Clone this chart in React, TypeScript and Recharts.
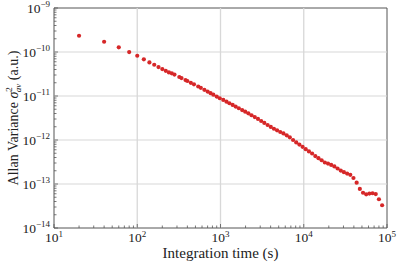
import React from "react";
import {
  ScatterChart,
  Scatter,
  XAxis,
  YAxis,
  ReferenceLine,
  ReferenceArea,
} from "recharts";

// integration times (s)
const TAU = [
  20, 40, 60, 80, 100, 120, 140, 160, 180, 200, 220, 240, 260, 280, 320, 340,
  380, 400, 440, 480, 540, 580, 640, 700, 760, 820, 900, 980, 1080, 1180, 1280,
  1400, 1520, 1660, 1820, 1980, 2160, 2360, 2580, 2820, 3080, 3360, 3680, 4020,
  4380, 4780, 5220, 5700, 6240, 6800, 7440, 8120, 8860, 9680, 10560, 11540,
  12600, 13760, 15020, 16400, 17920, 19560, 21360, 23320, 25480, 27820, 30380,
  33180, 36220, 39560, 43200, 47180, 51520, 56260, 61440, 67080, 73260, 80000,
  87360,
];

// allan variance (a.u.)
const AVAR = [
  2.34e-10, 1.71e-10, 1.28e-10, 9.97e-11, 8.21e-11, 6.8e-11, 5.81e-11,
  5.13e-11, 4.54e-11, 4.09e-11, 3.74e-11, 3.44e-11, 3.28e-11, 3.07e-11,
  2.7e-11, 2.55e-11, 2.3e-11, 2.19e-11, 1.995e-11, 1.845e-11, 1.643e-11,
  1.535e-11, 1.382e-11, 1.258e-11, 1.157e-11, 1.069e-11, 9.68e-12, 8.9e-12,
  8.14e-12, 7.45e-12, 6.85e-12, 6.27e-12, 5.76e-12, 5.27e-12, 4.8e-12,
  4.41e-12, 4.03e-12, 3.65e-12, 3.32e-12, 3.01e-12, 2.7e-12, 2.44e-12,
  2.19e-12, 1.98e-12, 1.8e-12, 1.66e-12, 1.52e-12, 1.41e-12, 1.28e-12,
  1.153e-12, 1.0e-12, 8.83e-13, 7.87e-13, 7.01e-13, 6.18e-13, 5.51e-13,
  4.93e-13, 4.31e-13, 3.86e-13, 3.47e-13, 3.08e-13, 2.91e-13, 2.72e-13,
  2.51e-13, 2.25e-13, 2.02e-13, 1.86e-13, 1.73e-13, 1.62e-13, 1.37e-13,
  1.07e-13, 7.72e-14, 6.33e-14, 5.82e-14, 6.07e-14, 6.16e-14, 5.91e-14,
  4.5e-14, 3.29e-14,
];

const X_MAJOR = [10, 100, 1000, 10000, 100000];
const Y_MAJOR = [1e-14, 1e-13, 1e-12, 1e-11, 1e-10, 1e-9];
const MINOR_STEPS = [2, 3, 4, 5, 6, 7, 8, 9];

const X_TICKS = [
  ...X_MAJOR,
  ...X_MAJOR.slice(0, -1).flatMap((d) => MINOR_STEPS.map((m) => m * d)),
].sort((a, b) => a - b);
const Y_TICKS = [
  ...Y_MAJOR,
  ...Y_MAJOR.slice(0, -1).flatMap((d) => MINOR_STEPS.map((m) => m * d)),
].sort((a, b) => a - b);

const FONT = "'Liberation Serif', 'DejaVu Serif', serif";
const SPINE = "#555";
const GRID = "#d8d8d8";
const RED = "#d62728";

const isMajor = (v: number) => {
  const l = Math.log10(v);
  return Math.abs(l - Math.round(l)) < 1e-6;
};

const fmtExp = (v: number) => {
  const e = Math.round(Math.log10(v));
  return e < 0 ? "\u2212" + Math.abs(e) : String(e);
};

const XTick = (props: any) => {
  const { x, y, payload } = props;
  const v = payload.value;
  if (!isMajor(v)) {
    return <line x1={x} x2={x} y1={y} y2={y - 2.5} stroke={SPINE} strokeWidth={0.8} />;
  }
  return (
    <g>
      <line x1={x} x2={x} y1={y} y2={y - 4} stroke={SPINE} strokeWidth={0.8} />
      <text x={x} y={y + 14} textAnchor="middle" fontFamily={FONT} fontSize={13.5} fill="#222">
        10
        <tspan dy={-5.5} fontSize={9}>
          {fmtExp(v)}
        </tspan>
      </text>
    </g>
  );
};

const YTick = (props: any) => {
  const { x, y, payload } = props;
  const v = payload.value;
  if (!isMajor(v)) {
    return <line x1={x} x2={x + 2.5} y1={y} y2={y} stroke={SPINE} strokeWidth={0.8} />;
  }
  return (
    <g>
      <line x1={x} x2={x + 4} y1={y} y2={y} stroke={SPINE} strokeWidth={0.8} />
      <text x={x - 4} y={y + 4.5} textAnchor="end" fontFamily={FONT} fontSize={13.5} fill="#222">
        10
        <tspan dy={-5.5} fontSize={9}>
          {fmtExp(v)}
        </tspan>
      </text>
    </g>
  );
};

const XLabel = (props: any) => {
  const { viewBox } = props;
  return (
    <text
      x={viewBox.x + viewBox.width / 2}
      y={viewBox.y + 29.5}
      textAnchor="middle"
      fontFamily={FONT}
      fontSize={15}
      fill="#222"
    >
      Integration time (s)
    </text>
  );
};

const YLabel = (props: any) => {
  const { viewBox } = props;
  const cx = 18;
  const cy = viewBox.y + viewBox.height / 2;
  return (
    <text
      x={cx}
      y={cy}
      transform={`rotate(-90 ${cx} ${cy})`}
      textAnchor="middle"
      fontFamily={FONT}
      fontSize={14}
      fill="#222"
    >
      Allan Variance{" "}
      <tspan fontStyle="italic">σ</tspan>
      <tspan dy={-6} fontSize={9}>2</tspan>
      <tspan dy={9} dx={-5} fontSize={9} fontStyle="italic">av</tspan>
      <tspan dy={-3}> (a.u.)</tspan>
    </text>
  );
};

const points = TAU.map((tau, i) => ({ tau, avar: AVAR[i] }));

export default function App() {
  return (
    <div style={{ position: "absolute", left: 0, top: 0, width: 399, height: 265, background: "#fff" }}>
      <ScatterChart width={399} height={265} margin={{ top: 8, right: 12, left: 0, bottom: 0 }}>
        <XAxis
          dataKey="tau"
          type="number"
          scale="log"
          domain={[10, 100000]}
          ticks={X_TICKS}
          interval={0}
          allowDataOverflow
          axisLine={false}
          tickLine={false}
          tickSize={0}
          tickMargin={0}
          height={37}
          tick={<XTick />}
          label={<XLabel />}
        />
        <YAxis
          dataKey="avar"
          type="number"
          scale="log"
          domain={[1e-14, 1e-9]}
          ticks={Y_TICKS}
          interval={0}
          allowDataOverflow
          axisLine={false}
          tickLine={false}
          tickSize={0}
          tickMargin={0}
          width={54}
          tick={<YTick />}
          label={<YLabel />}
        />
        {X_MAJOR.slice(1, -1).map((v) => (
          <ReferenceLine key={"x" + v} x={v} stroke={GRID} strokeWidth={1.3} />
        ))}
        {Y_MAJOR.slice(1, -1).map((v) => (
          <ReferenceLine key={"y" + v} y={v} stroke={GRID} strokeWidth={1.2} />
        ))}
        <Scatter
          data={points}
          fill={RED}
          isAnimationActive={false}
          shape={(p: any) => <circle cx={p.cx} cy={p.cy} r={2.1} fill={RED} />}
        />
        <ReferenceArea
          x1={10}
          x2={100000}
          y1={1e-14}
          y2={1e-9}
          fill="none"
          stroke={SPINE}
          strokeWidth={1}
          ifOverflow="visible"
        />
      </ScatterChart>
    </div>
  );
}
